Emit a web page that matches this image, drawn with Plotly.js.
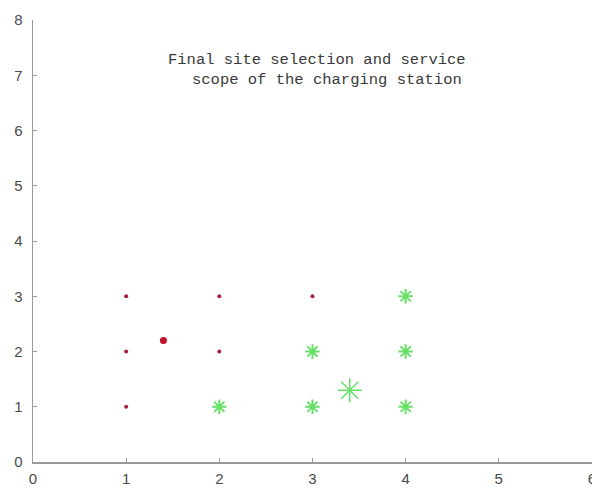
<!DOCTYPE html>
<html>
<head>
<meta charset="utf-8">
<script src="https://cdn.plot.ly/plotly-3.0.1.min.js"></script>
<style>html,body{margin:0;padding:0;background:#fff;}#chart{width:592px;height:488px;}</style>
</head>
<body>
<div id="chart"></div>
<script>
// Demand points not served by the selected station (red dots)
const redX = [1, 1, 1, 2, 2, 3];
const redY = [1, 2, 3, 2, 3, 3];
// Candidate station (red, larger)
const redCenterX = [1.4];
const redCenterY = [2.2];
// Demand points served by the final station (green stars)
const greenX = [2, 3, 3, 4, 4, 4];
const greenY = [1, 1, 2, 1, 2, 3];
// Final station location (large green star)
const greenCenterX = [3.4];
const greenCenterY = [1.3];
const titleLines = ["Final site selection and service", "scope of the charging station"];
const xTicks = [0, 1, 2, 3, 4, 5, 6];
const yTicks = [0, 1, 2, 3, 4, 5, 6, 7, 8];

const traces = [
  {x: redX, y: redY, mode: 'markers', type: 'scatter', marker: {color: '#a82040', size: 4}, hoverinfo: 'skip', cliponaxis: false},
  {x: redCenterX, y: redCenterY, mode: 'markers', type: 'scatter', marker: {color: '#c0102a', size: 7}, hoverinfo: 'skip'},
  {x: greenX, y: greenY, mode: 'markers', type: 'scatter', marker: {symbol: 'asterisk-open', size: 12, color: '#66e066', line: {color: '#66e066', width: 2}}, hoverinfo: 'skip'},
  {x: greenCenterX, y: greenCenterY, mode: 'markers', type: 'scatter', marker: {symbol: 'asterisk-open', size: 20, color: '#66e066', line: {color: '#66e066', width: 1.5}}, hoverinfo: 'skip'}
];

const axisCommon = {
  showgrid: false, zeroline: false, showline: true, linecolor: '#9a9a9a', linewidth: 1.5,
  ticks: 'inside', ticklen: 4, tickcolor: '#9a9a9a',
  ticklabeloverflow: 'allow',
  tickfont: {family: 'Liberation Sans, Arial, sans-serif', size: 15, color: '#4a4a4a'}
};

const layout = {
  width: 592, height: 488,
  margin: {l: 33, r: 0, t: 20, b: 26},
  paper_bgcolor: '#fff', plot_bgcolor: '#fff',
  showlegend: false,
  xaxis: Object.assign({}, axisCommon, {range: [0, 6.0005], tickvals: xTicks, ticktext: xTicks.map(String), ticklabelstandoff: 2}),
  yaxis: Object.assign({}, axisCommon, {range: [0, 8.0005], tickvals: yTicks, ticktext: yTicks.map(String), ticklabelstandoff: 6}),
  annotations: [
    {x: 3.05, y: 7.28, xref: 'x', yref: 'y', text: titleLines[0], showarrow: false, xanchor: 'center', yanchor: 'middle', font: {family: 'Liberation Mono, monospace', size: 15.5, color: '#3a3a3a'}},
    {x: 3.16, y: 6.92, xref: 'x', yref: 'y', text: titleLines[1], showarrow: false, xanchor: 'center', yanchor: 'middle', font: {family: 'Liberation Mono, monospace', size: 15.5, color: '#3a3a3a'}}
  ]
};

Plotly.newPlot('chart', traces, layout, {staticPlot: true, displayModeBar: false});
</script>
</body>
</html>
